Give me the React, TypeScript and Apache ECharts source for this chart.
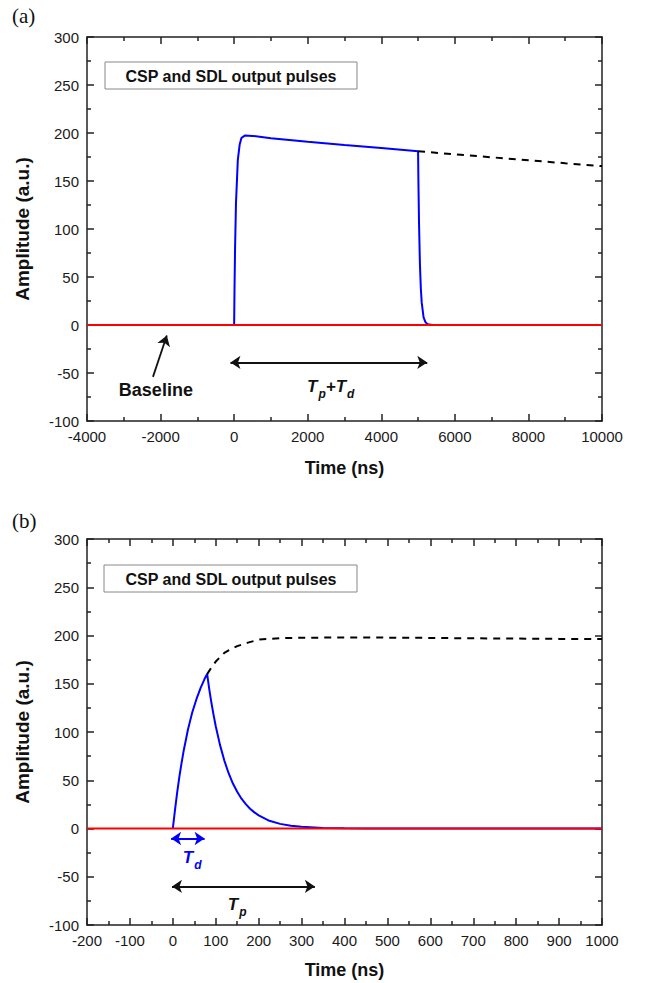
import React, { useEffect, useRef } from "react";
import * as echarts from "echarts";

// ---- Panel (a) data ----
const topBlueT = [0, 10, 25, 50, 100, 150, 200, 300, 500, 1000, 2000, 3000, 4000, 5000, 5010, 5025, 5050, 5075, 5100, 5150, 5200, 5250, 5300, 5400];
const topBlueA = [0, 37, 80, 127, 172, 188, 195, 197.5, 197, 194.5, 191, 187.6, 184.3, 181, 148, 108, 64, 38, 23, 8, 3, 1, 0.4, 0];
const topDashT = [5000, 6000, 7000, 8000, 9000, 10000];
const topDashA = [181, 177.8, 174.7, 171.6, 168.5, 165.5];
const topBaseT = [-4000, 10000];
const topBaseA = [0, 0];
const topXTicks = [-4000, 10000, 2000]; // min, max, interval

// ---- Panel (b) data ----
const botBlueT = [0, 5, 10, 15, 20, 25, 30, 35, 40, 45, 50, 55, 60, 65, 70, 75, 80, 85, 90, 95, 100, 110, 120, 130, 140, 150, 160, 170, 180, 190, 200, 225, 250, 275, 300, 350, 400, 450, 1000];
const botBlueA = [0, 19, 37, 53, 67, 80, 91, 102, 111, 120, 127, 134, 140, 146, 151, 156, 160, 144, 130, 117.5, 106, 86.4, 70.4, 57.3, 46.6, 38, 30.9, 25.2, 20.5, 16.7, 13.6, 8, 4.8, 2.8, 1.7, 0.6, 0.2, 0, 0];
const botDashT = [80, 90, 100, 110, 120, 130, 150, 175, 200, 250, 300, 400, 500, 600, 700, 800, 900, 1000];
const botDashA = [160, 167, 173, 177.5, 182, 184.6, 189, 192.6, 195.7, 197.3, 197.6, 198, 197.8, 197.5, 197.1, 196.8, 196.5, 196.3];
const botBaseT = [-200, 1000];
const botBaseA = [0, 0];
const botXTicks = [-200, 1000, 100];
const yTicks = [-100, 300, 50];

const legendText = "CSP and SDL output pulses";

const zip = (a: number[], b: number[]) => a.map((v, i) => [v, b[i]]);

const FONT = "Liberation Sans, Arial, sans-serif";
const AX = "#222";

function axisCommon(showLabel: boolean) {
  return {
    type: "value",
    axisLine: { show: true, onZero: false, lineStyle: { color: AX, width: 1.5 } },
    axisTick: { show: true, inside: true, length: 7, lineStyle: { color: AX, width: 1.5 } },
    minorTick: { show: true, splitNumber: 2, length: 4, lineStyle: { color: AX, width: 1.5 } },
    splitLine: { show: false },
    minorSplitLine: { show: false },
    axisLabel: {
      show: showLabel, fontSize: 15, color: "#1a1a1a", fontFamily: FONT, margin: 8,
      formatter: (v: number) => String(v),
    },
  };
}

const subRich = {
  big: { fontSize: 17, fontWeight: "bold", fontStyle: "italic", fontFamily: FONT, lineHeight: 20 },
  sub: { fontSize: 12, fontWeight: "bold", fontStyle: "italic", fontFamily: FONT, lineHeight: 14, padding: [15, 0, 0, 1] },
};

function textPoint(coord: number[], text: string, color: string, rich?: boolean) {
  return {
    coord,
    value: 0,
    symbol: "circle",
    symbolSize: 1,
    itemStyle: { color: "rgba(0,0,0,0)" },
    label: {
      show: true,
      position: "inside",
      formatter: () => text,
      color,
      fontSize: 18,
      fontWeight: "bold",
      fontFamily: FONT,
      rich: rich
        ? {
            big: { ...subRich.big, color },
            sub: { ...subRich.sub, color },
          }
        : undefined,
    },
  };
}

export default function App() {
  const ref = useRef<HTMLDivElement>(null);
  useEffect(() => {
    if (!ref.current) return;
    const chart = echarts.init(ref.current, null, { renderer: "svg" });
    const grids = [
      { left: 87, top: 37, width: 515, height: 384 },
      { left: 87, top: 539, width: 515, height: 386 },
    ];
    const nameStyle = { fontSize: 18, fontWeight: "bold", fontFamily: FONT, color: "#111" };
    const xAxes = [
      {
        ...axisCommon(true), gridIndex: 0, position: "bottom",
        min: topXTicks[0], max: topXTicks[1], interval: topXTicks[2],
        name: "Time (ns)", nameLocation: "middle", nameGap: 38, nameTextStyle: nameStyle,
      },
      { ...axisCommon(false), gridIndex: 0, position: "top", min: topXTicks[0], max: topXTicks[1], interval: topXTicks[2] },
      {
        ...axisCommon(true), gridIndex: 1, position: "bottom",
        min: botXTicks[0], max: botXTicks[1], interval: botXTicks[2],
        name: "Time (ns)", nameLocation: "middle", nameGap: 36, nameTextStyle: nameStyle,
      },
      { ...axisCommon(false), gridIndex: 1, position: "top", min: botXTicks[0], max: botXTicks[1], interval: botXTicks[2] },
    ];
    const yAxes = [0, 1].flatMap((g) => [
      {
        ...axisCommon(true), gridIndex: g, position: "left",
        min: yTicks[0], max: yTicks[1], interval: yTicks[2],
        name: "Amplitude (a.u.)", nameLocation: "middle", nameGap: 55,
        nameTextStyle: { ...nameStyle, fontSize: 19 },
      },
      { ...axisCommon(false), gridIndex: g, position: "right", min: yTicks[0], max: yTicks[1], interval: yTicks[2] },
    ]);

    const lineBase = { type: "line", showSymbol: false, symbol: "none", silent: true };
    const arrowLine = (a: number[], b: number[], color: string, sym: string[]) => ({
      symbol: sym,
      symbolSize: 10,
      silent: true,
      label: { show: false },
      lineStyle: { color, width: 1.8, type: "solid" },
      data: [[{ coord: a }, { coord: b }]],
    });

    chart.setOption({
      animation: false,
      grid: grids,
      xAxis: xAxes,
      yAxis: yAxes,
      graphic: [
        { type: "text", left: 12, top: 5, style: { text: "(a)", font: "21px 'Liberation Serif', 'Times New Roman', serif", fill: "#111" } },
        { type: "text", left: 12, top: 510, style: { text: "(b)", font: "21px 'Liberation Serif', 'Times New Roman', serif", fill: "#111" } },
        { type: "rect", shape: { x: 105, y: 62, width: 252, height: 27 }, style: { fill: "#fff", stroke: "#888", lineWidth: 1 } },
        { type: "text", x: 231, y: 76, style: { text: legendText, font: `bold 16px ${FONT}`, fill: "#111", align: "center", verticalAlign: "middle" } },
        { type: "rect", shape: { x: 104, y: 565, width: 253, height: 27 }, style: { fill: "#fff", stroke: "#888", lineWidth: 1 } },
        { type: "text", x: 231, y: 579, style: { text: legendText, font: `bold 16px ${FONT}`, fill: "#111", align: "center", verticalAlign: "middle" } },
      ],
      series: [
        {
          ...lineBase, xAxisIndex: 0, yAxisIndex: 0, data: zip(topBlueT, topBlueA),
          lineStyle: { color: "#0000ff", width: 2 }, z: 2,
          markLine: arrowLine([-100, -39], [5250, -39], "#111", ["arrow", "arrow"]),
          markPoint: {
            data: [
              textPoint([2625, -64], "{big|T}{sub|p}{big|+T}{sub|d}", "#111", true),
              textPoint([-2128, -68], "Baseline", "#111"),
            ],
          },
        },
        {
          ...lineBase, xAxisIndex: 0, yAxisIndex: 0, data: zip(topDashT, topDashA),
          lineStyle: { color: "#000", width: 2, type: [7, 6] }, z: 2,
          markLine: arrowLine([-2207, -54], [-1830, -11], "#111", ["none", "arrow"]),
        },
        {
          ...lineBase, xAxisIndex: 0, yAxisIndex: 0, data: zip(topBaseT, topBaseA),
          lineStyle: { color: "#ff0000", width: 2 }, z: 3,
        },
        {
          ...lineBase, xAxisIndex: 2, yAxisIndex: 2, data: zip(botBlueT, botBlueA),
          lineStyle: { color: "#0000ff", width: 2 }, z: 2,
          markLine: arrowLine([-4, -10.4], [74, -10.4], "#0000ff", ["arrow", "arrow"]),
          markPoint: {
            data: [textPoint([45, -30], "{big|T}{sub|d}", "#0000ff", true)],
          },
        },
        {
          ...lineBase, xAxisIndex: 2, yAxisIndex: 2, data: zip(botDashT, botDashA),
          lineStyle: { color: "#000", width: 2, type: [7, 6] }, z: 2,
          markLine: arrowLine([-2, -60], [331, -60], "#111", ["arrow", "arrow"]),
          markPoint: {
            data: [textPoint([150, -79], "{big|T}{sub|p}", "#111", true)],
          },
        },
        {
          ...lineBase, xAxisIndex: 2, yAxisIndex: 2, data: zip(botBaseT, botBaseA),
          lineStyle: { color: "#ff0000", width: 2 }, z: 3,
        },
      ],
    });
    return () => chart.dispose();
  }, []);
  return <div ref={ref} style={{ position: "absolute", left: 0, top: 0, width: 648, height: 983 }} />;
}
